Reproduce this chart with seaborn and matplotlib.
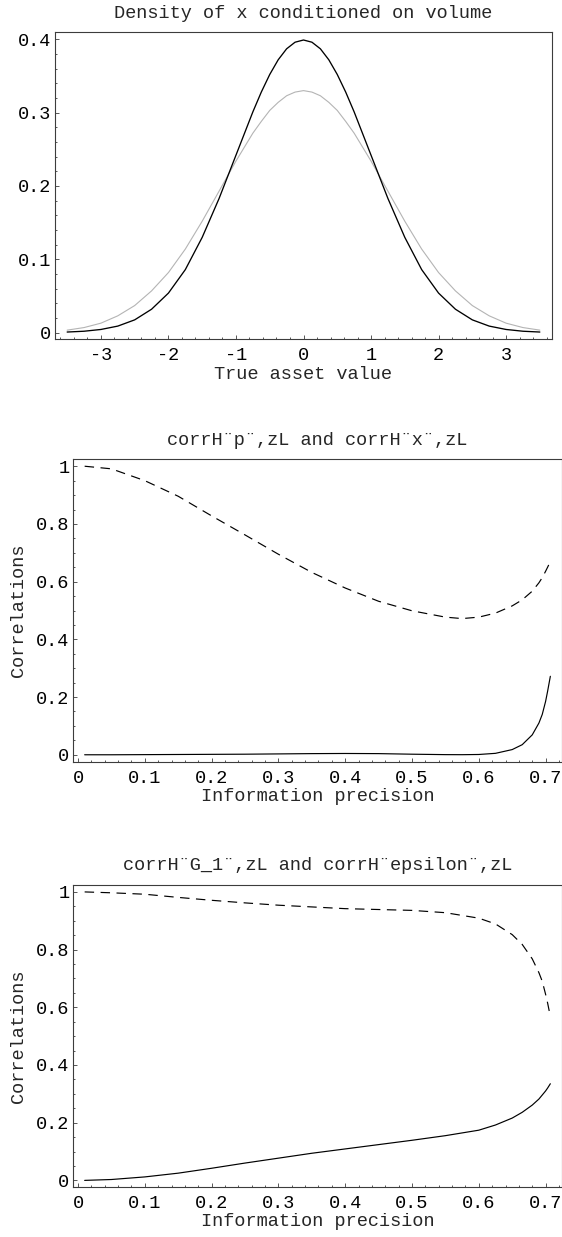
import matplotlib
matplotlib.use("Agg")
import matplotlib.pyplot as plt
from matplotlib.ticker import FixedLocator, MultipleLocator, FixedFormatter
import seaborn as sns

# ---------------- data ----------------
# Panel 1: density of x conditioned on volume
asset_value = [-3.5, -3.25, -3.0, -2.75, -2.5, -2.25, -2.0, -1.75, -1.5, -1.25, -1.0,
               -0.75, -0.625, -0.5, -0.375, -0.25, -0.125, 0.0, 0.125, 0.25, 0.375, 0.5,
               0.625, 0.75, 1.0, 1.25, 1.5, 1.75, 2.0, 2.25, 2.5, 2.75, 3.0, 3.25, 3.5]
density_black = [0.0009, 0.002, 0.0044, 0.009, 0.0175, 0.032, 0.054, 0.086, 0.130,
                 0.183, 0.242, 0.301, 0.328, 0.352, 0.372, 0.387, 0.396, 0.399, 0.396,
                 0.387, 0.372, 0.352, 0.328, 0.301, 0.242, 0.183, 0.130, 0.086, 0.054,
                 0.032, 0.0175, 0.009, 0.0044, 0.002, 0.0009]
density_gray = [0.0035, 0.007, 0.013, 0.023, 0.037, 0.057, 0.082, 0.114, 0.152, 0.193,
                0.234, 0.272, 0.288, 0.303, 0.314, 0.323, 0.328, 0.330, 0.328, 0.323,
                0.314, 0.303, 0.288, 0.272, 0.234, 0.193, 0.152, 0.114, 0.082, 0.057,
                0.037, 0.023, 0.013, 0.007, 0.0035]
asset_ticks = [-3, -2, -1, 0, 1, 2, 3]
asset_ticklabels = ["-3", "-2", "-1", "0", "1", "2", "3"]
density_ticks = [0.0, 0.1, 0.2, 0.3, 0.4]
density_ticklabels = ["0", "0.1", "0.2", "0.3", "0.4"]

# Panel 2: corr("p", z) and corr("x", z)
precision2 = [0.01, 0.05, 0.10, 0.15, 0.20, 0.25, 0.30, 0.35, 0.40, 0.45, 0.50, 0.55,
              0.575, 0.60, 0.625, 0.65, 0.665, 0.68, 0.69, 0.695, 0.70, 0.703, 0.7071]
corr_p_dashed = [1.0, 0.991, 0.950, 0.896, 0.828, 0.762, 0.695, 0.632, 0.578, 0.532,
                 0.499, 0.477, 0.472, 0.477, 0.491, 0.516, 0.537, 0.567, 0.596, 0.614,
                 0.636, 0.650, 0.670]
corr_x_solid = [0.0, 0.0, 0.0005, 0.001, 0.0015, 0.002, 0.003, 0.004, 0.0045, 0.004,
                0.002, 0.0005, 0.0003, 0.001, 0.005, 0.018, 0.035, 0.069, 0.110, 0.140,
                0.185, 0.220, 0.272]

# Panel 3: corr("G_1", z) and corr("epsilon", z)
precision3 = [0.01, 0.05, 0.10, 0.15, 0.20, 0.25, 0.30, 0.35, 0.40, 0.45, 0.50, 0.55,
              0.60, 0.625, 0.65, 0.665, 0.68, 0.69, 0.695, 0.70, 0.703, 0.7071]
corr_g1_dashed = [1.0, 0.997, 0.992, 0.981, 0.971, 0.962, 0.954, 0.948, 0.942, 0.939,
                  0.936, 0.928, 0.909, 0.889, 0.852, 0.818, 0.768, 0.720, 0.690, 0.645,
                  0.615, 0.568]
corr_eps_solid = [0.0, 0.003, 0.012, 0.025, 0.042, 0.060, 0.077, 0.094, 0.109, 0.124,
                  0.139, 0.155, 0.174, 0.192, 0.216, 0.236, 0.261, 0.282, 0.296, 0.310,
                  0.320, 0.335]

prec_ticks = [0, 0.1, 0.2, 0.3, 0.4, 0.5, 0.6, 0.7]
prec_ticklabels = ["0", "0.1", "0.2", "0.3", "0.4", "0.5", "0.6", "0.7"]
corr_ticks = [0, 0.2, 0.4, 0.6, 0.8, 1.0]
corr_ticklabels = ["0", "0.2", "0.4", "0.6", "0.8", "1"]

titles = ["Density of x conditioned on volume",
          "corrH\u00a8p\u00a8,zL and corrH\u00a8x\u00a8,zL",
          "corrH\u00a8G_1\u00a8,zL and corrH\u00a8epsilon\u00a8,zL"]

# ---------------- style ----------------
sns.set_style("ticks")
plt.rcParams['font.family'] = ['Liberation Mono', 'DejaVu Sans']
plt.rcParams['axes.unicode_minus'] = False
FS = 13.4
FRAME = "#3c3c3c"

W, H = 562, 1237
fig = plt.figure(figsize=(W / 100, H / 100), dpi=100)


def add_axes(left, top, right, bottom):
    return fig.add_axes([left / W, 1 - bottom / H, (right - left) / W, (bottom - top) / H])


ax1 = add_axes(55, 32.3, 552, 339.3)
ax2 = add_axes(73.3, 459.3, 561.5, 761.7)
ax3 = add_axes(73.3, 885, 561.5, 1187.3)

# panel 1
sns.lineplot(x=asset_value, y=density_gray, ax=ax1, color="#b4b4b4", linewidth=0.8)
sns.lineplot(x=asset_value, y=density_black, ax=ax1, color="black", linewidth=0.95)
ax1.set_xlim(-3.68, 3.68)
ax1.set_ylim(-0.009, 0.4095)
ax1.xaxis.set_major_locator(FixedLocator(asset_ticks))
ax1.xaxis.set_major_formatter(FixedFormatter(asset_ticklabels))
ax1.xaxis.set_minor_locator(MultipleLocator(0.2))
ax1.yaxis.set_major_locator(FixedLocator(density_ticks))
ax1.yaxis.set_major_formatter(FixedFormatter(density_ticklabels))
ax1.yaxis.set_minor_locator(MultipleLocator(0.02))
ax1.set_xlabel("True asset value", fontsize=FS)
ax1.xaxis.set_label_coords(0.5, (339.3 - 379.4) / 307.0)
ax1.xaxis.label.set_verticalalignment("baseline")

# panel 2
sns.lineplot(x=precision2, y=corr_p_dashed, ax=ax2, color="black", linewidth=0.85)
ax2.lines[-1].set_dashes((8, 5.5))
sns.lineplot(x=precision2, y=corr_x_solid, ax=ax2, color="black", linewidth=0.85)

# panel 3
sns.lineplot(x=precision3, y=corr_g1_dashed, ax=ax3, color="black", linewidth=0.85)
ax3.lines[-1].set_dashes((8, 5.5))
sns.lineplot(x=precision3, y=corr_eps_solid, ax=ax3, color="black", linewidth=0.85)

for ax, bottom_px, h_px in [(ax2, 761.7, 302.4), (ax3, 1187.3, 302.3)]:
    ax.set_xlim(-0.007, 0.7238)
    ax.set_ylim(-0.024, 1.024)
    ax.xaxis.set_major_locator(FixedLocator(prec_ticks))
    ax.xaxis.set_major_formatter(FixedFormatter(prec_ticklabels))
    ax.xaxis.set_minor_locator(MultipleLocator(0.02))
    ax.yaxis.set_major_locator(FixedLocator(corr_ticks))
    ax.yaxis.set_major_formatter(FixedFormatter(corr_ticklabels))
    ax.yaxis.set_minor_locator(MultipleLocator(0.05))
    ax.set_xlabel("Information precision", fontsize=FS)
    ax.xaxis.set_label_coords(0.5, -39.0 / h_px)
    ax.xaxis.label.set_verticalalignment("baseline")
    ax.set_ylabel("Correlations", fontsize=FS)
    ax.yaxis.set_label_coords((22.7 - 73.3) / 488.2, 0.5)
    ax.yaxis.label.set_verticalalignment("baseline")

for ax, title in zip([ax1, ax2, ax3], titles):
    ax.set_title(title, fontsize=FS, pad=10.6)
    for side in ["top", "right", "bottom", "left"]:
        ax.spines[side].set_visible(True)
        ax.spines[side].set_color(FRAME)
        ax.spines[side].set_linewidth(0.8)
    ax.tick_params(which="both", direction="in", color=FRAME, width=0.6,
                   top=False, right=False, labelsize=FS, labelcolor="black")
    ax.tick_params(axis="x", which="major", length=3.2, pad=5.8)
    ax.tick_params(axis="y", which="major", length=3.2, pad=2.8)
    ax.tick_params(which="minor", length=1.7)
    ax.grid(False)

fig.savefig("out.png", dpi=100)
